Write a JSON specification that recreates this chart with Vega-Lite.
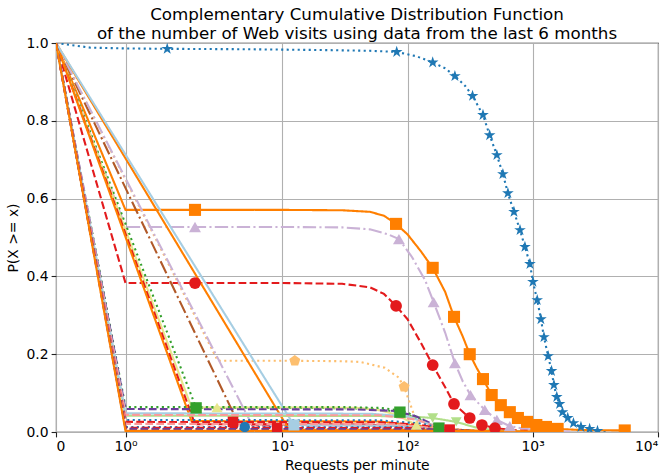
{
  "$schema": "https://vega.github.io/schema/vega-lite/v6.json",
  "width": 602,
  "height": 389,
  "autosize": {"type": "none"},
  "padding": {"left": 56, "top": 43, "right": 9, "bottom": 44},
  "background": "white",
  "config": {"view": {"stroke": "#222222", "strokeWidth": 1.1}, "font": "DejaVu Sans"},
  "title": {
    "text": ["Complementary Cumulative Distribution Function", "of the number of Web visits using data from the last 6 months"],
    "font": "DejaVu Sans", "fontSize": 16.7, "fontWeight": "normal", "color": "black",
    "anchor": "middle", "frame": "group", "offset": -7, "lineHeight": 19.5
  },
  "datasets": {
    "curves": [
      {"series":"blue","x":0,"y":1.0},{"series":"blue","x":0.5,"y":0.988},{"series":"blue","x":1,"y":0.986},{"series":"blue","x":1.6,"y":0.985},{"series":"blue","x":5,"y":0.984},{"series":"blue","x":20,"y":0.982},{"series":"blue","x":50,"y":0.98},{"series":"blue","x":82,"y":0.977},{"series":"blue","x":120,"y":0.966},{"series":"blue","x":160,"y":0.95},{"series":"blue","x":200,"y":0.935},{"series":"blue","x":244,"y":0.915},{"series":"blue","x":290,"y":0.89},{"series":"blue","x":334,"y":0.864},{"series":"blue","x":401,"y":0.815},{"series":"blue","x":456,"y":0.763},{"series":"blue","x":519,"y":0.712},{"series":"blue","x":580,"y":0.663},{"series":"blue","x":636,"y":0.614},{"series":"blue","x":710,"y":0.566},{"series":"blue","x":793,"y":0.519},{"series":"blue","x":869,"y":0.476},{"series":"blue","x":953,"y":0.432},{"series":"blue","x":1007,"y":0.386},{"series":"blue","x":1104,"y":0.339},{"series":"blue","x":1188,"y":0.29},{"series":"blue","x":1257,"y":0.244},{"series":"blue","x":1352,"y":0.195},{"series":"blue","x":1429,"y":0.157},{"series":"blue","x":1483,"y":0.121},{"series":"blue","x":1567,"y":0.09},{"series":"blue","x":1656,"y":0.072},{"series":"blue","x":1750,"y":0.051},{"series":"blue","x":1918,"y":0.036},{"series":"blue","x":2143,"y":0.023},{"series":"blue","x":2483,"y":0.013},{"series":"blue","x":2877,"y":0.008},{"series":"blue","x":3330,"y":0.003},{"series":"blue","x":4000,"y":0.001},
      {"series":"orange","x":0,"y":1.0},{"series":"orange","x":1,"y":0.571},{"series":"orange","x":2,"y":0.571},{"series":"orange","x":10,"y":0.571},{"series":"orange","x":30,"y":0.57},{"series":"orange","x":50,"y":0.566},{"series":"orange","x":65,"y":0.556},{"series":"orange","x":81,"y":0.535},{"series":"orange","x":100,"y":0.508},{"series":"orange","x":130,"y":0.465},{"series":"orange","x":160,"y":0.422},{"series":"orange","x":200,"y":0.36},{"series":"orange","x":240,"y":0.296},{"series":"orange","x":280,"y":0.245},{"series":"orange","x":316,"y":0.2},{"series":"orange","x":360,"y":0.165},{"series":"orange","x":401,"y":0.136},{"series":"orange","x":473,"y":0.095},{"series":"orange","x":559,"y":0.069},{"series":"orange","x":659,"y":0.051},{"series":"orange","x":764,"y":0.036},{"series":"orange","x":902,"y":0.026},{"series":"orange","x":1084,"y":0.018},{"series":"orange","x":1303,"y":0.013},{"series":"orange","x":1595,"y":0.008},{"series":"orange","x":2500,"y":0.005},{"series":"orange","x":5470,"y":0.004},{"series":"orange","x":5600,"y":0.0},
      {"series":"lpurple","x":0,"y":1.0},{"series":"lpurple","x":1,"y":0.527},{"series":"lpurple","x":2,"y":0.527},{"series":"lpurple","x":10,"y":0.527},{"series":"lpurple","x":30,"y":0.526},{"series":"lpurple","x":50,"y":0.521},{"series":"lpurple","x":70,"y":0.508},{"series":"lpurple","x":85.5,"y":0.496},{"series":"lpurple","x":110,"y":0.45},{"series":"lpurple","x":140,"y":0.39},{"series":"lpurple","x":163,"y":0.334},{"series":"lpurple","x":200,"y":0.255},{"series":"lpurple","x":244,"y":0.177},{"series":"lpurple","x":280,"y":0.13},{"series":"lpurple","x":321,"y":0.095},{"series":"lpurple","x":416,"y":0.057},{"series":"lpurple","x":519,"y":0.031},{"series":"lpurple","x":659,"y":0.015},{"series":"lpurple","x":870,"y":0.008},{"series":"lpurple","x":1200,"y":0.004},{"series":"lpurple","x":2000,"y":0.001},
      {"series":"red","x":0,"y":1.0},{"series":"red","x":1,"y":0.383},{"series":"red","x":2,"y":0.383},{"series":"red","x":10,"y":0.383},{"series":"red","x":30,"y":0.381},{"series":"red","x":50,"y":0.372},{"series":"red","x":65,"y":0.355},{"series":"red","x":81,"y":0.324},{"series":"red","x":100,"y":0.29},{"series":"red","x":130,"y":0.23},{"series":"red","x":160,"y":0.172},{"series":"red","x":200,"y":0.115},{"series":"red","x":240,"y":0.072},{"series":"red","x":316,"y":0.036},{"series":"red","x":394,"y":0.018},{"series":"red","x":500,"y":0.01},{"series":"red","x":700,"y":0.005},{"series":"red","x":1000,"y":0.002},
      {"series":"lorange","x":0,"y":1.0},{"series":"lorange","x":3.05,"y":0.183},{"series":"lorange","x":12.8,"y":0.183},{"series":"lorange","x":30,"y":0.182},{"series":"lorange","x":42,"y":0.18},{"series":"lorange","x":66,"y":0.165},{"series":"lorange","x":85,"y":0.14},{"series":"lorange","x":94,"y":0.116},{"series":"lorange","x":105,"y":0.075},{"series":"lorange","x":119,"y":0.031},{"series":"lorange","x":130,"y":0.008},{"series":"lorange","x":150,"y":0.002},
      {"series":"green","x":0,"y":1.0},{"series":"green","x":2.05,"y":0.062},{"series":"green","x":20,"y":0.062},{"series":"green","x":50,"y":0.06},{"series":"green","x":87,"y":0.051},{"series":"green","x":110,"y":0.04},{"series":"green","x":140,"y":0.025},{"series":"green","x":180,"y":0.01},{"series":"green","x":250,"y":0.003},
      {"series":"yellow","x":0,"y":1.0},{"series":"yellow","x":1.95,"y":0.063},{"series":"yellow","x":3,"y":0.063},{"series":"yellow","x":20,"y":0.063},{"series":"yellow","x":40,"y":0.062},{"series":"yellow","x":60,"y":0.056},{"series":"yellow","x":80,"y":0.045},{"series":"yellow","x":100,"y":0.03},{"series":"yellow","x":120,"y":0.018},{"series":"yellow","x":150,"y":0.008},{"series":"yellow","x":200,"y":0.002},
      {"series":"brown","x":0,"y":1.0},{"series":"brown","x":4.5,"y":0.02},{"series":"brown","x":30,"y":0.019},{"series":"brown","x":100,"y":0.015},{"series":"brown","x":200,"y":0.006},{"series":"brown","x":400,"y":0.001},
      {"series":"lpurple2","x":0,"y":1.0},{"series":"lpurple2","x":5.8,"y":0.015},{"series":"lpurple2","x":50,"y":0.014},{"series":"lpurple2","x":150,"y":0.008},{"series":"lpurple2","x":300,"y":0.002},
      {"series":"redd","x":0,"y":1.0},{"series":"redd","x":2.0,"y":0.02},{"series":"redd","x":50,"y":0.019},{"series":"redd","x":150,"y":0.01},{"series":"redd","x":300,"y":0.002},
      {"series":"oranged1","x":0,"y":1.0},{"series":"oranged1","x":1.95,"y":0.028},{"series":"oranged1","x":60,"y":0.027},{"series":"oranged1","x":180,"y":0.01},{"series":"oranged1","x":400,"y":0.001},
      {"series":"oranged","x":0,"y":1.0},{"series":"oranged","x":11.5,"y":0.006},{"series":"oranged","x":200,"y":0.005},{"series":"oranged","x":700,"y":0.002},{"series":"oranged","x":1500,"y":0.0},
      {"series":"lblued","x":0,"y":1.0},{"series":"lblued","x":12.6,"y":0.018},{"series":"lblued","x":100,"y":0.016},{"series":"lblued","x":180,"y":0.006},{"series":"lblued","x":300,"y":0.001},
      {"series":"lgreen","x":0,"y":1.0},{"series":"lgreen","x":1,"y":0.042},{"series":"lgreen","x":60,"y":0.041},{"series":"lgreen","x":120,"y":0.039},{"series":"lgreen","x":160,"y":0.036},{"series":"lgreen","x":250,"y":0.026},{"series":"lgreen","x":350,"y":0.012},{"series":"lgreen","x":500,"y":0.004},{"series":"lgreen","x":800,"y":0.001},
      {"series":"L1","x":0,"y":1.0},{"series":"L1","x":1,"y":0.064},{"series":"L1","x":30,"y":0.064},{"series":"L1","x":60,"y":0.062},{"series":"L1","x":90,"y":0.055},{"series":"L1","x":120,"y":0.04},{"series":"L1","x":150,"y":0.02},{"series":"L1","x":200,"y":0.006},{"series":"L1","x":300,"y":0.001},
      {"series":"L2","x":0,"y":1.0},{"series":"L2","x":1,"y":0.059},{"series":"L2","x":40,"y":0.058},{"series":"L2","x":80,"y":0.054},{"series":"L2","x":120,"y":0.04},{"series":"L2","x":160,"y":0.02},{"series":"L2","x":220,"y":0.006},{"series":"L2","x":350,"y":0.001},
      {"series":"L3","x":0,"y":1.0},{"series":"L3","x":1,"y":0.048},{"series":"L3","x":50,"y":0.047},{"series":"L3","x":100,"y":0.04},{"series":"L3","x":150,"y":0.02},{"series":"L3","x":220,"y":0.005},{"series":"L3","x":350,"y":0.001},
      {"series":"L4","x":0,"y":1.0},{"series":"L4","x":1,"y":0.044},{"series":"L4","x":60,"y":0.043},{"series":"L4","x":120,"y":0.032},{"series":"L4","x":170,"y":0.014},{"series":"L4","x":260,"y":0.003},
      {"series":"L5","x":0,"y":1.0},{"series":"L5","x":1,"y":0.031},{"series":"L5","x":60,"y":0.03},{"series":"L5","x":130,"y":0.022},{"series":"L5","x":200,"y":0.008},{"series":"L5","x":400,"y":0.001},
      {"series":"L6","x":0,"y":1.0},{"series":"L6","x":1,"y":0.026},{"series":"L6","x":60,"y":0.025},{"series":"L6","x":130,"y":0.018},{"series":"L6","x":220,"y":0.006},{"series":"L6","x":400,"y":0.001},
      {"series":"L7","x":0,"y":1.0},{"series":"L7","x":1,"y":0.021},{"series":"L7","x":80,"y":0.02},{"series":"L7","x":160,"y":0.01},{"series":"L7","x":300,"y":0.002},
      {"series":"L8","x":0,"y":1.0},{"series":"L8","x":1,"y":0.013},{"series":"L8","x":100,"y":0.012},{"series":"L8","x":200,"y":0.005},{"series":"L8","x":500,"y":0.001},
      {"series":"L9","x":0,"y":1.0},{"series":"L9","x":1,"y":0.011},{"series":"L9","x":100,"y":0.01},{"series":"L9","x":200,"y":0.004},{"series":"L9","x":500,"y":0.0},
      {"series":"L10","x":0,"y":1.0},{"series":"L10","x":1,"y":0.008},{"series":"L10","x":150,"y":0.007},{"series":"L10","x":300,"y":0.002},{"series":"L10","x":800,"y":0.0},
      {"series":"L11","x":0,"y":1.0},{"series":"L11","x":1,"y":0.003},{"series":"L11","x":300,"y":0.003},{"series":"L11","x":1000,"y":0.001}
    ],
    "marks": [
      {"series":"blue","x":1.6,"y":0.985},{"series":"blue","x":82,"y":0.977},{"series":"blue","x":160,"y":0.95},{"series":"blue","x":244,"y":0.915},{"series":"blue","x":334,"y":0.864},{"series":"blue","x":401,"y":0.815},{"series":"blue","x":456,"y":0.763},{"series":"blue","x":519,"y":0.712},{"series":"blue","x":580,"y":0.663},{"series":"blue","x":636,"y":0.614},{"series":"blue","x":710,"y":0.566},{"series":"blue","x":793,"y":0.519},{"series":"blue","x":869,"y":0.476},{"series":"blue","x":953,"y":0.432},{"series":"blue","x":1007,"y":0.386},{"series":"blue","x":1104,"y":0.339},{"series":"blue","x":1188,"y":0.29},{"series":"blue","x":1257,"y":0.244},{"series":"blue","x":1352,"y":0.195},{"series":"blue","x":1429,"y":0.157},{"series":"blue","x":1483,"y":0.121},{"series":"blue","x":1567,"y":0.09},{"series":"blue","x":1656,"y":0.072},{"series":"blue","x":1750,"y":0.051},{"series":"blue","x":1918,"y":0.036},{"series":"blue","x":2143,"y":0.023},{"series":"blue","x":2483,"y":0.013},{"series":"blue","x":2877,"y":0.008},{"series":"blue","x":3330,"y":0.003},
      {"series":"orange","x":2,"y":0.571},{"series":"orange","x":81,"y":0.535},{"series":"orange","x":160,"y":0.422},{"series":"orange","x":240,"y":0.296},{"series":"orange","x":316,"y":0.2},{"series":"orange","x":401,"y":0.136},{"series":"orange","x":473,"y":0.095},{"series":"orange","x":559,"y":0.069},{"series":"orange","x":659,"y":0.051},{"series":"orange","x":764,"y":0.036},{"series":"orange","x":902,"y":0.026},{"series":"orange","x":1084,"y":0.018},{"series":"orange","x":1303,"y":0.013},{"series":"orange","x":1595,"y":0.008},{"series":"orange","x":5470,"y":0.004},
      {"series":"lpurple","x":2,"y":0.527},{"series":"lpurple","x":85.5,"y":0.496},{"series":"lpurple","x":163,"y":0.334},{"series":"lpurple","x":244,"y":0.177},{"series":"lpurple","x":321,"y":0.095},{"series":"lpurple","x":416,"y":0.057},{"series":"lpurple","x":519,"y":0.031},{"series":"lpurple","x":659,"y":0.015},
      {"series":"red","x":2,"y":0.383},{"series":"red","x":81,"y":0.324},{"series":"red","x":160,"y":0.172},{"series":"red","x":240,"y":0.072},{"series":"red","x":316,"y":0.036},{"series":"red","x":394,"y":0.018},{"series":"red","x":500,"y":0.01},
      {"series":"lorange","x":12.8,"y":0.183},{"series":"lorange","x":94,"y":0.116},
      {"series":"green","x":2.05,"y":0.062},{"series":"green","x":87,"y":0.051},{"series":"green","x":180,"y":0.01},
      {"series":"yellow","x":3,"y":0.063},{"series":"yellow","x":120,"y":0.018},
      {"series":"lblued","x":12.6,"y":0.018},
      {"series":"lgreen","x":160,"y":0.036},{"series":"lgreen","x":250,"y":0.026},
      {"series":"L6","x":4.03,"y":0.026},{"series":"L6","x":220,"y":0.006},
      {"series":"L8","x":5,"y":0.013},
      {"series":"L9","x":9.05,"y":0.011}
    ]
  },
  "layer": [
    {
      "data": {"name": "curves"},
      "mark": {"type": "line", "strokeWidth": 2.1, "clip": true},
      "encoding": {
        "x": {"field": "x", "type": "quantitative",
          "scale": {"type": "linear", "nice": false, "zero": false,
            "domain": [0,1,2,3,4,5,6,7,8,9,10,15,20,30,40,50,60,70,80,90,100,150,200,300,400,500,600,700,800,900,1000,1500,2000,3000,4000,5000,6000,7000,8000,9000,10000],
            "range": [0,69.5,139,161.03,176.66,188.78,198.69,207.06,214.32,220.72,226.44,248.47,264.1,286.13,301.76,313.88,323.79,332.16,339.42,345.82,351.54,373.57,389.2,411.23,426.86,438.98,448.89,457.26,464.52,470.92,476.64,498.67,514.3,536.33,551.96,564.08,573.99,582.36,589.62,596.02,601.74]},
          "axis": {"title": "Requests per minute", "values": [0,1,10,100,1000,10000],
            "labelExpr": "datum.value == 0 ? '0' : datum.value == 1 ? '10⁰' : datum.value == 10 ? '10¹' : datum.value == 100 ? '10²' : datum.value == 1000 ? '10³' : '10⁴'",
            "grid": true, "gridColor": "#b0b0b0", "gridWidth": 1.1, "domain": false,
            "tickColor": "#222222", "tickSize": 4.9, "tickWidth": 1.1, "labelFont": "DejaVu Sans", "labelFontSize": 13.9, "labelColor": "black", "labelPadding": 3,
            "titleFont": "DejaVu Sans", "titleFontSize": 13.9, "titleFontWeight": "normal", "titleColor": "black", "titlePadding": 5}},
        "y": {"field": "y", "type": "quantitative",
          "scale": {"domain": [0, 1], "nice": false, "zero": false},
          "axis": {"title": "P(X >= x)", "values": [0,0.05,0.1,0.15,0.2,0.25,0.3,0.35,0.4,0.45,0.5,0.55,0.6,0.65,0.7,0.75,0.8,0.85,0.9,0.95,1.0],
            "labelExpr": "abs(datum.value*5 - round(datum.value*5)) < 0.001 ? format(datum.value, '.1f') : ''",
            "grid": true, "gridColor": "#b0b0b0", "gridWidth": 1.1,
            "gridOpacity": {"condition": {"test": "abs(datum.value*5 - round(datum.value*5)) < 0.001", "value": 1}, "value": 0},
            "tickSize": {"condition": {"test": "abs(datum.value*5 - round(datum.value*5)) < 0.001", "value": 4.9}, "value": 2.8},
            "domain": false, "tickColor": "#222222", "tickWidth": 1.1, "labelFont": "DejaVu Sans", "labelFontSize": 13.9, "labelColor": "black", "labelPadding": 3,
            "titleFont": "DejaVu Sans", "titleFontSize": 13.9, "titleFontWeight": "normal", "titleColor": "black", "titlePadding": 6}},
        "color": {"field": "series", "type": "nominal", "legend": null,
          "scale": {"domain": ["blue","orange","lpurple","red","lorange","green","yellow","brown","lpurple2","redd","oranged1","oranged","lblued","lgreen","L1","L2","L3","L4","L5","L6","L7","L8","L9","L10","L11"],
            "range": ["#1f78b4","#ff7f00","#cab2d6","#e31a1c","#fdbf6f","#33a02c","#e6e68c","#b15928","#cab2d6","#e31a1c","#ff7f00","#ff7f00","#a6cee3","#b2df8a","#33a02c","#6a3d9a","#a6cee3","#fb9a99","#1f78b4","#e31a1c","#fb9a99","#1f78b4","#e31a1c","#6a3d9a","#ff7f00"]}},
        "strokeDash": {"field": "series", "type": "nominal", "legend": null,
          "scale": {"domain": ["blue","orange","lpurple","red","lorange","green","yellow","brown","lpurple2","redd","oranged1","oranged","lblued","lgreen","L1","L2","L3","L4","L5","L6","L7","L8","L9","L10","L11"],
            "range": [[2.1,3.4],[1,0],[13.3,3.3,2.1,3.3],[7.7,3.3],[2.1,3.4],[2.1,3.4],[1,0],[13.3,3.3,2.1,3.3],[13.3,3.3,2.1,3.3],[7.7,3.3],[1,0],[1,0],[1,0],[1,0],[2.1,3.4],[7.7,3.3],[1,0],[7.7,3.3],[2.1,3.4],[7.7,3.3],[7.7,3.3],[2.1,3.4],[7.7,3.3],[7.7,3.3],[1,0]]}}
      }
    },
    {
      "data": {"name": "marks"},
      "mark": {"type": "point", "filled": true, "opacity": 1, "clip": true},
      "encoding": {
        "x": {"field": "x", "type": "quantitative"},
        "y": {"field": "y", "type": "quantitative"},
        "color": {"field": "series", "type": "nominal", "legend": null},
        "size": {"field": "series", "type": "nominal", "legend": null,
          "scale": {"domain": ["blue","orange","lpurple","red","lorange","green","yellow","lblued","lgreen","L6","L8","L9"],
            "range": [150,105,110,95,120,105,110,105,110,105,95,105]}},
        "shape": {"field": "series", "type": "nominal", "legend": null,
          "scale": {"domain": ["blue","orange","lpurple","red","lorange","green","yellow","lblued","lgreen","L6","L8","L9"],
            "range": ["M0,-1L0.2245,-0.309L0.951,-0.309L0.363,0.118L0.588,0.809L0,0.382L-0.588,0.809L-0.363,0.118L-0.951,-0.309L-0.2245,-0.309Z","square","triangle-up","circle","M0,-1L0.951,-0.309L0.588,0.809L-0.588,0.809L-0.951,-0.309Z","square","triangle-up","square","triangle-down","square","circle","square"]}}
      }
    }
  ]
}
